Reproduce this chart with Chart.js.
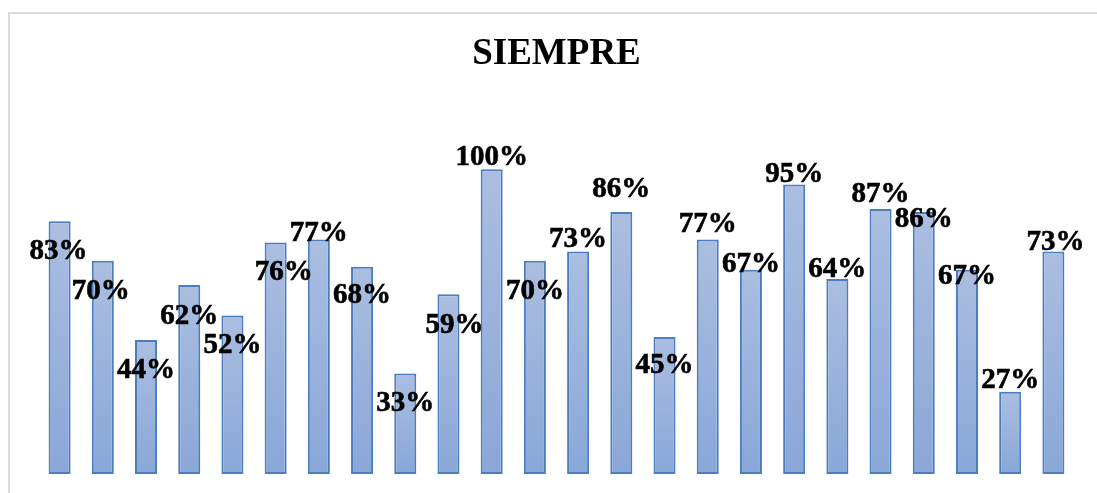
<!DOCTYPE html>
<html>
<head>
<meta charset="utf-8">
<script src="https://cdn.jsdelivr.net/npm/chart.js@4/dist/chart.umd.min.js"></script>
<style>
  html, body { margin: 0; padding: 0; background: #fff; }
  #wrap { position: relative; width: 1097px; height: 493px; overflow: hidden; }
  #frame { position: absolute; left: 8px; top: 12px; width: 1200px; height: 600px; border: 2px solid #dcdcdc; box-sizing: border-box; }
  #siempreChart { position: absolute; left: 0; top: 0; }
</style>
</head>
<body>
<div id="wrap">
  <div id="frame"></div>
  <canvas id="siempreChart" width="1097" height="493"></canvas>
</div>
<script>
// Siempre - porcentajes por pregunta
const categories = ['1', '2', '3', '4', '5', '6', '7', '8', '9', '10', '11', '12',
  '13', '14', '15', '16', '17', '18', '19', '20', '21', '22', '23', '24'];
const siempreValues = [83, 70, 44, 62, 52, 76, 77, 68, 33, 59, 100, 70,
  73, 86, 45, 77, 67, 95, 64, 87, 86, 67, 27, 73];

// label nudges (px) relative to bar top, like the hand-placed Excel labels
const labelDx = [-1, -2, 0, 0, 0, 8, 0, 0, 0, 6, 0, 0, 0, 0, 0, 0, 0, 0, 0, 0, 0, 0, 0, 2];
const labelDy = [30, 31, 31, 31, 30, 30, -6, 29, 30, 31, -12, 31, -12, -22, 29, -15, -5, -10, -9, -14, 8, 7, -11, -9];

const barLabels = {
  id: 'barLabels',
  afterDatasetsDraw(chart) {
    const ctx = chart.ctx;
    const meta = chart.getDatasetMeta(0);
    ctx.save();
    ctx.font = 'bold 29px "Liberation Serif", "Times New Roman", serif';
    ctx.fillStyle = '#000';
    ctx.strokeStyle = '#000';
    ctx.lineWidth = 0.6;
    ctx.textAlign = 'center';
    ctx.textBaseline = 'middle';
    meta.data.forEach((bar, i) => {
      const txt = siempreValues[i] + '%';
      ctx.fillText(txt, bar.x + labelDx[i], bar.y + labelDy[i]);
      ctx.strokeText(txt, bar.x + labelDx[i], bar.y + labelDy[i]);
    });
    ctx.restore();
  }
};

const ctxSiempre = document.getElementById('siempreChart').getContext('2d');
const siempreChart = new Chart(ctxSiempre, {
  type: 'bar',
  data: {
    labels: categories,
    datasets: [{
      label: 'SIEMPRE',
      data: siempreValues,
      backgroundColor: (c) => {
        const chart = c.chart;
        const y = chart.scales.y;
        if (!y || c.raw == null) return '#9fb5dd';
        const top = y.getPixelForValue(c.raw);
        const base = y.getPixelForValue(0);
        if (!isFinite(top) || !isFinite(base) || top === base) return '#9fb5dd';
        const g = chart.ctx.createLinearGradient(0, top, 0, base);
        g.addColorStop(0, '#abbee0');
        g.addColorStop(1, '#8aa7d8');
        return g;
      },
      borderColor: '#4a7ebf',
      borderWidth: 2,
      borderSkipped: false,
      barPercentage: 0.51,
      categoryPercentage: 1.0,
    }]
  },
  options: {
    responsive: false,
    animation: false,
    layout: {
      padding: { top: 10, left: 38, right: 22, bottom: 19 }
    },
    scales: {
      x: {
        display: false,
      },
      y: {
        display: false,
        min: 0,
        max: 120,
      }
    },
    plugins: {
      legend: {
        display: false,
      },
      tooltip: {
        enabled: false,
      },
      title: {
        display: true,
        text: 'SIEMPRE',
        color: '#000',
        font: { family: '"Liberation Serif", "Times New Roman", serif', size: 37, weight: 'bold', lineHeight: 1.2 },
        padding: { top: 22, bottom: 32 },
      }
    }
  },
  plugins: [barLabels]
});
</script>
</body>
</html>
